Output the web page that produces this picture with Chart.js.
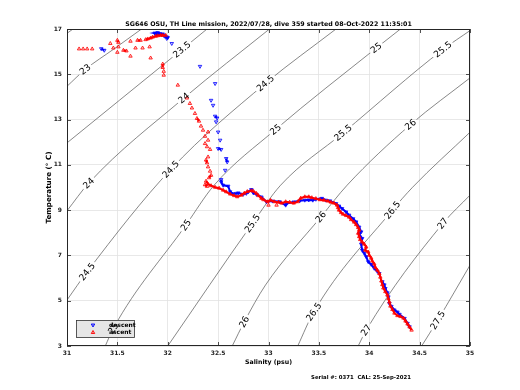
<!DOCTYPE html>
<html><head><meta charset="utf-8">
<script src="https://cdn.jsdelivr.net/npm/chart.js@4/dist/chart.umd.min.js"></script>
<style>html,body{margin:0;padding:0;background:#fff}canvas{display:block}</style>
</head><body>
<canvas id="c" width="520" height="390"></canvas>
<script>
// ---------------- data ----------------
const titleText = 'SG646 OSU, TH Line mission, 2022/07/28, dive 359 started 08-Oct-2022 11:35:01';
const xTitle = 'Salinity (psu)';
const yTitle = 'Temperature (° C)';
const footerText = 'Serial #: 0371  CAL: 25-Sep-2021';
const seriesNames = ['descent', 'ascent'];
const xTicks = [31, 31.5, 32, 32.5, 33, 33.5, 34, 34.5, 35];
const yTicks = [3, 5, 7, 9, 11, 13, 15, 17];

// descent (blue) [salinity, temperature]
const descent = [
  [31.89,16.80],[31.87,16.82],[31.90,16.84],[31.92,16.80],[31.88,16.76],[31.91,16.78],[31.94,16.76],[31.95,16.78],
  [31.96,16.72],[31.97,16.68],[31.99,16.65],[32.00,16.62],[31.99,16.58],[32.04,16.36],
  [31.37,16.06],[31.34,16.13],
  [32.32,15.35],[32.47,14.59],[32.43,13.85],[32.45,13.63],[32.47,13.15],[32.49,13.07],[32.48,12.90],
  [32.50,12.45],[32.52,12.09],[32.50,11.72],[32.53,11.68],[32.58,11.28],[32.59,11.13],[32.57,10.76],
  [32.53,10.35],[32.53,10.25],[32.55,10.10],[32.60,10.06],
  [32.62,9.81],[32.65,9.72],[32.68,9.74],[32.70,9.76],[32.75,9.70],[32.78,9.74],[32.80,9.81],[32.83,9.91],
  [32.85,9.76],[32.88,9.70],[32.93,9.58],[32.98,9.37],[33.04,9.40],[33.11,9.37],[33.17,9.22],[33.18,9.29],
  [33.25,9.36],[33.31,9.41],[33.36,9.44],[33.40,9.45],[33.44,9.44],[33.47,9.48],[33.53,9.52],[33.57,9.44],
  [33.61,9.41],[33.67,9.29],[33.70,9.18],[33.73,9.07],[33.77,8.92],[33.80,8.78],[33.84,8.62],[33.87,8.48],
  [33.90,8.25],[33.92,8.04],[33.90,7.95],[33.93,7.75],[33.92,7.50],[33.93,7.23],[33.95,7.10],[33.97,6.94],
  [33.99,6.72],[34.02,6.60],[34.05,6.43],[34.08,6.30],[34.10,6.20],[34.13,5.84],[34.15,5.70],[34.16,5.54],
  [34.18,5.35],[34.19,5.17],[34.20,4.88],[34.22,4.75],[34.25,4.59],[34.28,4.50],[34.30,4.40],[34.35,4.22],
  [34.38,4.00],[34.40,3.85]
];

// ascent (red) [salinity, temperature]
const ascent = [
  [34.42,3.70],[34.40,3.84],[34.38,3.97],[34.36,4.10],[34.34,4.23],[34.31,4.30],[34.28,4.34],[34.25,4.45],
  [34.23,4.61],[34.21,4.76],[34.20,4.94],[34.19,5.09],[34.18,5.25],[34.16,5.40],[34.14,5.56],[34.13,5.71],
  [34.12,5.87],[34.11,6.04],[34.10,6.20],[34.08,6.35],[34.06,6.48],[34.05,6.62],[34.03,6.75],[34.02,6.88],
  [34.00,7.01],[33.99,7.15],[33.96,7.23],[33.97,7.37],[33.95,7.50],[33.93,7.59],[33.91,7.70],[33.90,7.83],
  [33.89,7.98],[33.90,8.12],[33.89,8.23],[33.87,8.36],[33.85,8.47],[33.82,8.58],[33.80,8.69],[33.77,8.76],
  [33.74,8.82],[33.72,8.89],[33.70,9.00],[33.69,9.11],[33.68,9.22],[33.65,9.31],[33.62,9.35],[33.59,9.40],
  [33.55,9.44],[33.51,9.46],[33.47,9.51],[33.43,9.55],[33.40,9.59],[33.36,9.59],[33.32,9.53],[33.29,9.37],
  [33.25,9.31],[33.21,9.35],[33.17,9.37],[33.13,9.31],[33.10,9.35],[33.06,9.37],[33.02,9.44],[32.99,9.37],
  [32.95,9.46],[32.93,9.52],[32.90,9.64],[32.88,9.74],[32.85,9.84],[32.83,9.86],[32.79,9.82],[32.76,9.75],
  [32.73,9.66],[32.69,9.59],[32.66,9.64],[32.62,9.71],[32.58,9.81],[32.55,9.88],[32.51,9.97],[32.47,10.01],
  [32.43,10.08],[32.40,10.15],[32.38,10.28],[32.41,10.43],[32.43,10.54],[32.42,10.72],[32.40,10.91],
  [32.39,11.09],[32.38,11.21],[32.40,11.35],[32.42,11.68],[32.39,11.80],[32.37,11.94],[32.40,12.09],
  [32.37,12.26],[32.40,12.45],[32.35,12.53],[32.33,12.71],[32.31,12.93],[32.29,13.05],[32.27,13.27],
  [32.24,13.51],[32.22,13.71],[32.19,13.95],[32.10,14.52],[31.96,14.96],[31.96,15.13],[31.95,15.30],[31.95,15.45],
  [31.98,16.72],[31.95,16.72],[31.93,16.72],[31.90,16.70],[31.88,16.68],[31.85,16.64],[31.83,16.60],[31.80,16.56],[31.78,16.53],
  [31.82,16.21],[31.83,15.72],[31.75,16.16],[31.68,16.16],[31.73,16.50],[31.70,16.50],[31.63,16.46],[31.63,15.80],
  [31.59,16.03],[31.56,16.06],[31.51,16.21],[31.46,16.16],[31.50,15.97],[31.51,16.41],[31.50,16.50],[31.43,16.36],
  [31.25,16.12],[31.20,16.12],[31.16,16.12],[31.12,16.12],
  [33.00,9.22],[33.08,9.22],[32.37,10.12],[32.39,10.05]
];

// potential density (sigma-theta) contour lines, [salinity, temperature]
const contourLevels = ['22.5','23','23.5','24','24.5','25','25.5','26','26.5','27','27.5'];
const sigma22_5 = [[31.00,16.81],[31.06,17.00]];
const sigma23   = [[31.00,14.47],[31.18,15.21],[31.46,16.10],[31.74,17.00]];
const sigma23_5 = [[31.00,11.97],[31.52,13.85],[32.14,16.09],[32.39,17.00]];
const sigma24   = [[31.00,8.97],[31.215,10.19],[32.16,13.95],[33.01,17.00]];
const sigma24_5 = [[31.00,5.03],[31.20,6.28],[32.03,10.80],[32.97,14.60],[33.67,17.00]];
const sigma25   = [[31.38,3.00],[31.46,3.78],[32.18,8.34],[32.46,10.10],[33.07,12.56],[34.07,16.16],[34.31,17.00]];
const sigma25_5 = [[32.00,3.00],[32.84,8.41],[33.12,10.10],[33.74,12.41],[34.73,16.09],[35.00,16.93]];
const sigma26   = [[32.64,3.00],[32.76,4.07],[32.97,5.69],[33.52,8.70],[33.78,10.10],[34.41,12.78],[35.00,14.84]];
const sigma26_5 = [[33.29,3.00],[33.45,4.51],[34.23,9.00],[34.43,10.01],[35.00,12.44]];
const sigma27   = [[33.89,3.00],[33.97,3.70],[34.73,8.41],[35.00,9.66]];
const sigma27_5 = [[34.52,3.00],[34.68,4.14],[35.00,6.57]];
const contourLines = [sigma22_5,sigma23,sigma23_5,sigma24,sigma24_5,sigma25,sigma25_5,sigma26,sigma26_5,sigma27,sigma27_5];

// inline contour labels
const labelLevels = ['23','23.5','24','24','24.5','24.5','24.5','25','25','25','25','25.5','25.5','25.5','26','26','26','26.5','26.5','27','27','27.5'];
const labelS = [31.18,32.14,31.215,32.16,31.20,32.03,32.97,31.46,32.18,33.07,34.07,32.84,33.74,34.73,32.76,33.52,34.41,33.45,34.23,33.97,34.73,34.68];
const labelT = [15.21,16.09,10.19,13.95,6.28,10.80,14.60,3.78,8.34,12.56,16.16,8.41,12.41,16.09,4.07,8.70,12.78,4.51,9.00,3.70,8.41,4.14];

// ---------------- drawing ----------------
const FONT = '"DejaVu Sans", "Liberation Sans", sans-serif';
const LABEL_FONT = '9px ' + FONT;
const toXY = arr => arr.map(p => ({x: p[0], y: p[1]}));

function pix(chart, s, t) {
  return [chart.scales.x.getPixelForValue(s), chart.scales.y.getPixelForValue(t)];
}
function labelGeom(chart, li) {
  const lev = labelLevels[li];
  const line = contourLines[contourLevels.indexOf(lev)];
  let best = 0, bd = 1e9;
  line.forEach((p, i) => { const d = Math.abs(p[0]-labelS[li]) + Math.abs(p[1]-labelT[li]); if (d < bd) { bd = d; best = i; } });
  const a = line[Math.max(0, best-1)], b = line[Math.min(line.length-1, best+1)];
  const pa = pix(chart, a[0], a[1]), pb = pix(chart, b[0], b[1]);
  const ang = Math.atan2(pb[1]-pa[1], pb[0]-pa[0]);
  const c = pix(chart, labelS[li], labelT[li]);
  const ctx = chart.ctx;
  ctx.save(); ctx.font = LABEL_FONT; const w = ctx.measureText(lev).width; ctx.restore();
  return {cx: c[0], cy: c[1], ang, w: w + 4, h: 9};
}
function fitFont(ctx, text, weight, target) {
  ctx.font = weight + ' 10px ' + FONT;
  const w = ctx.measureText(text).width;
  const size = 10 * target / w;
  ctx.font = weight + ' ' + size.toFixed(2) + 'px ' + FONT;
}

// join consecutive markers only where the profile is densely sampled
const joinDense = c => {
  const d = Math.hypot(c.p1.x - c.p0.x, c.p1.y - c.p0.y);
  const deep = c.p0.parsed.y < 10.3 && c.p1.parsed.y < 10.3;
  return (d <= 3.6 || (deep && d <= 8)) ? undefined : 'rgba(0,0,0,0)';
};

const datasets = [];
datasets.push({
  label: seriesNames[1], data: toXY(ascent), order: 0,
  showLine: true, borderColor: '#ff0000', backgroundColor: 'rgba(255,0,0,0.2)', borderWidth: 2,
  pointStyle: 'triangle', pointRadius: 2, pointBorderWidth: 0.8, pointBorderColor: '#ff0000',
  segment: {borderColor: joinDense}
});
datasets.push({
  label: seriesNames[0], data: toXY(descent), order: 1,
  showLine: true, borderColor: '#0000ff', backgroundColor: 'rgba(0,0,255,0.2)', borderWidth: 2,
  pointStyle: 'triangle', pointRotation: 180, pointRadius: 2, pointBorderWidth: 0.8, pointBorderColor: '#0000ff',
  segment: {borderColor: joinDense}
});
contourLines.forEach((line, k) => {
  datasets.push({
    label: 'sigma ' + contourLevels[k], data: toXY(line), order: 2, contourIndex: k,
    showLine: true, borderColor: '#555555', borderWidth: 0.7, pointRadius: 0,
    cubicInterpolationMode: 'monotone'
  });
});

const decor = {
  id: 'decor',
  beforeDatasetDraw(chart, args) {
    const ds = chart.data.datasets[args.index];
    if (ds.contourIndex === undefined) return;
    const lev = contourLevels[ds.contourIndex];
    const ctx = chart.ctx, ca = chart.chartArea;
    ctx.save();
    ctx.beginPath();
    ctx.rect(ca.left - 2, ca.top - 2, ca.right - ca.left + 4, ca.bottom - ca.top + 4);
    labelLevels.forEach((l, li) => {
      if (l !== lev) return;
      const g = labelGeom(chart, li);
      const co = Math.cos(g.ang), si = Math.sin(g.ang);
      const pts = [[-g.w/2,-g.h/2],[g.w/2,-g.h/2],[g.w/2,g.h/2],[-g.w/2,g.h/2]];
      pts.forEach((p, i) => {
        const x = g.cx + p[0]*co - p[1]*si, y = g.cy + p[0]*si + p[1]*co;
        if (i === 0) ctx.moveTo(x, y); else ctx.lineTo(x, y);
      });
      ctx.closePath();
    });
    ctx.clip('evenodd');
  },
  afterDatasetDraw(chart, args) {
    const ds = chart.data.datasets[args.index];
    if (ds.contourIndex === undefined) return;
    chart.ctx.restore();
  },
  afterDatasetsDraw(chart) {
    const ctx = chart.ctx, ca = chart.chartArea, xs = chart.scales.x, ys = chart.scales.y;
    // frame
    ctx.save();
    ctx.strokeStyle = '#262626'; ctx.lineWidth = 1;
    ctx.strokeRect(Math.round(ca.left) + 0.5, Math.round(ca.top) + 0.5, Math.round(ca.right - ca.left) - 1, Math.round(ca.bottom - ca.top) - 1);
    ctx.lineWidth = 0.8;
    ctx.beginPath();
    xTicks.forEach(v => {
      const x = Math.round(xs.getPixelForValue(v)) + 0.5;
      ctx.moveTo(x, ca.bottom); ctx.lineTo(x, ca.bottom - 4);
      ctx.moveTo(x, ca.top); ctx.lineTo(x, ca.top + 4);
    });
    yTicks.forEach(v => {
      const y = Math.round(ys.getPixelForValue(v)) + 0.5;
      ctx.moveTo(ca.left, y); ctx.lineTo(ca.left + 4, y);
      ctx.moveTo(ca.right, y); ctx.lineTo(ca.right - 4, y);
    });
    ctx.stroke();
    // legend
    ctx.fillStyle = '#e6e6e6'; ctx.fillRect(76, 320, 59, 18);
    ctx.strokeStyle = '#333333'; ctx.lineWidth = 0.8; ctx.strokeRect(76.5, 320.5, 58, 17);
    const drawTri = (x, y, r, down, col) => {
      ctx.beginPath();
      const s = down ? 1 : -1;
      ctx.moveTo(x, y + s*r);
      ctx.lineTo(x - r*0.87, y - s*r*0.5);
      ctx.lineTo(x + r*0.87, y - s*r*0.5);
      ctx.closePath();
      ctx.fillStyle = col.replace('1)', '0.3)'); ctx.fill();
      ctx.strokeStyle = col; ctx.lineWidth = 0.9; ctx.stroke();
    };
    drawTri(93, 325, 2, true, 'rgba(0,0,255,1)');
    drawTri(93, 332.5, 2, false, 'rgba(255,0,0,1)');
    ctx.fillStyle = '#000'; ctx.font = 'bold 6px ' + FONT; ctx.textAlign = 'left'; ctx.textBaseline = 'middle';
    ctx.fillText(seriesNames[0], 109, 325);
    ctx.fillText(seriesNames[1], 109, 332.5);
    // contour labels
    ctx.font = LABEL_FONT; ctx.fillStyle = '#000'; ctx.textAlign = 'center'; ctx.textBaseline = 'middle';
    labelLevels.forEach((l, li) => {
      const g = labelGeom(chart, li);
      ctx.save(); ctx.translate(g.cx, g.cy); ctx.rotate(g.ang); ctx.fillText(l, 0, 0.5); ctx.restore();
    });
    ctx.restore();
  },
  afterDraw(chart) {
    const ctx = chart.ctx, ca = chart.chartArea;
    ctx.save();
    ctx.fillStyle = '#000'; ctx.textAlign = 'center'; ctx.textBaseline = 'middle';
    fitFont(ctx, titleText, 'bold', 287);
    ctx.fillText(titleText, 268.5, 24);
    fitFont(ctx, xTitle, 'bold', 47);
    ctx.fillText(xTitle, (ca.left + ca.right) / 2, 362);
    fitFont(ctx, footerText, 'bold', 100);
    ctx.fillText(footerText, 361, 378);
    ctx.translate(49, (ca.top + ca.bottom) / 2); ctx.rotate(-Math.PI / 2);
    fitFont(ctx, yTitle, 'bold', 72);
    ctx.fillText(yTitle, 0, 0);
    ctx.restore();
  }
};

new Chart(document.getElementById('c'), {
  type: 'scatter',
  data: {datasets},
  options: {
    responsive: false, animation: false, devicePixelRatio: 1,
    layout: {padding: {top: 29, right: 50, left: 0, bottom: 0}},
    plugins: {legend: {display: false}, tooltip: {enabled: false}, title: {display: false}},
    scales: {
      x: {
        type: 'linear', min: 31, max: 35,
        afterBuildTicks: s => { s.ticks = xTicks.map(v => ({value: v})); },
        afterFit: s => { s.height = 44; },
        grid: {color: '#e2e2e2', lineWidth: 0.8, drawTicks: false},
        border: {display: false},
        ticks: {font: {size: 6, family: FONT, weight: 'bold'}, color: '#222', padding: 4, maxRotation: 0, autoSkip: false, callback: v => String(v)}
      },
      y: {
        type: 'linear', min: 3, max: 17,
        afterBuildTicks: s => { s.ticks = yTicks.map(v => ({value: v})); },
        afterFit: s => { s.width = 67; },
        grid: {color: '#e2e2e2', lineWidth: 0.8, drawTicks: false},
        border: {display: false},
        ticks: {font: {size: 6, family: FONT, weight: 'bold'}, color: '#222', padding: 5, autoSkip: false, callback: v => String(v)}
      }
    }
  },
  plugins: [decor]
});
</script>
</body></html>
